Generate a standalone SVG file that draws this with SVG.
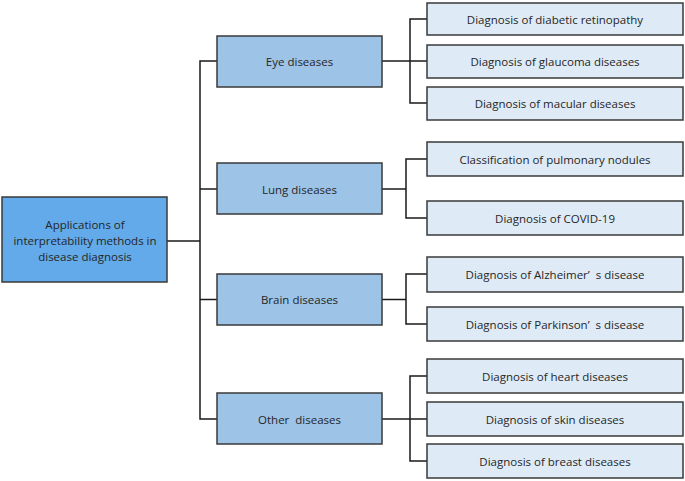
<svg xmlns="http://www.w3.org/2000/svg" width="685" height="481" viewBox="0 0 685 481">
<style>
  .root rect { fill: #62AAEA; stroke: #3a3a3a; stroke-width: 1.5; }
  .mid rect { fill: #9DC3E6; stroke: #3a3a3a; stroke-width: 1.5; }
  .leaf rect { fill: #DEEBF7; stroke: #3a3a3a; stroke-width: 1.5; }
  text { font-family: "Open Sans", "Noto Sans", sans-serif; font-size: 11.5px; fill: #262626; text-anchor: middle; dominant-baseline: central; white-space: pre; }
  .conn path { fill: none; stroke: #1a1a1a; stroke-width: 1.5; }
</style>
<rect width="685" height="481" fill="#ffffff"/>
<g class="conn" id="connectors">
  <path d="M167 241 H200"/>
  <path d="M217 61 H200 V419 H217"/>
  <path d="M200 189 H217"/>
  <path d="M200 299.5 H217"/>
  <path d="M382 61 H427"/>
  <path d="M427 19 H410 V103 H427"/>
  <path d="M382 189 H406"/>
  <path d="M427 159 H406 V218 H427"/>
  <path d="M382 299.5 H406"/>
  <path d="M427 274 H406 V324 H427"/>
  <path d="M382 419 H427"/>
  <path d="M427 376 H410 V461 H427"/>
</g>
<g id="root" class="root">
  <rect x="2" y="197" width="165" height="85"/>
  <text x="85" y="224">Applications of</text>
  <text x="85" y="240">interpretability methods in</text>
  <text x="85" y="256">disease diagnosis</text>
</g>
<g id="eye" class="mid"><rect x="217" y="36" width="165" height="51"/><text x="299.5" y="61.5">Eye diseases</text></g>
<g id="lung" class="mid"><rect x="217" y="163" width="165" height="51"/><text x="299.5" y="189">Lung diseases</text></g>
<g id="brain" class="mid"><rect x="217" y="274" width="165" height="51"/><text x="299.5" y="299.5">Brain diseases</text></g>
<g id="other" class="mid"><rect x="217" y="393" width="165" height="51"/><text x="299.5" y="419">Other  diseases</text></g>
<g id="eye1" class="leaf"><rect x="427" y="3" width="256" height="32"/><text x="555" y="19">Diagnosis of diabetic retinopathy</text></g>
<g id="eye2" class="leaf"><rect x="427" y="45" width="256" height="33"/><text x="555" y="61.5">Diagnosis of glaucoma diseases</text></g>
<g id="eye3" class="leaf"><rect x="427" y="87" width="256" height="33"/><text x="555" y="103.5">Diagnosis of macular diseases</text></g>
<g id="lung1" class="leaf"><rect x="427" y="142" width="256" height="34"/><text x="555" y="159">Classification of pulmonary nodules</text></g>
<g id="lung2" class="leaf"><rect x="427" y="201" width="256" height="34"/><text x="555" y="218">Diagnosis of COVID-19</text></g>
<g id="brain1" class="leaf"><rect x="427" y="257" width="256" height="35"/><text x="555" y="274.5">Diagnosis of Alzheimer’  s disease</text></g>
<g id="brain2" class="leaf"><rect x="427" y="307" width="256" height="34"/><text x="555" y="324">Diagnosis of Parkinson’  s disease</text></g>
<g id="other1" class="leaf"><rect x="427" y="359" width="256" height="34"/><text x="555" y="376">Diagnosis of heart diseases</text></g>
<g id="other2" class="leaf"><rect x="427" y="402" width="256" height="34"/><text x="555" y="419">Diagnosis of skin diseases</text></g>
<g id="other3" class="leaf"><rect x="427" y="444" width="256" height="34"/><text x="555" y="461">Diagnosis of breast diseases</text></g>
</svg>
